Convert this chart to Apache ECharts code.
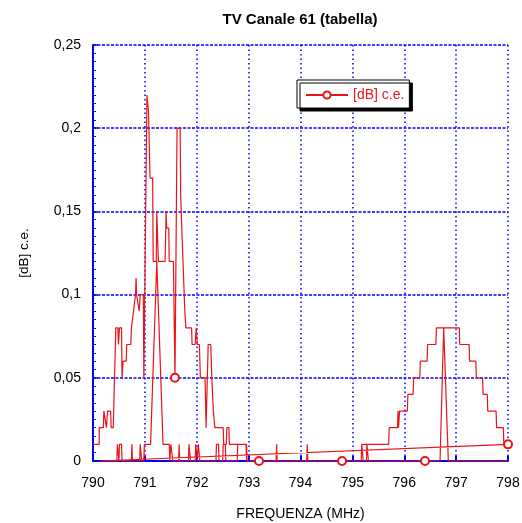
<!DOCTYPE html>
<html>
<head>
<meta charset="utf-8">
<script src="https://cdn.jsdelivr.net/npm/echarts@6/dist/echarts.min.js"></script>
<style>
  html, body { margin: 0; padding: 0; background: #fff; }
  #chart { width: 522px; height: 523px; }
</style>
</head>
<body>
<div id="chart"></div>
<script>
// traccia principale (inviluppo), in ordine di frequenza
const freqA = [790.00, 790.12, 790.12, 790.20, 790.21, 790.24, 790.26, 790.28, 790.34, 790.35, 790.39,
  790.44, 790.48, 790.49, 790.51, 790.55, 790.56, 790.58, 790.64, 790.65, 790.73, 790.74, 790.77,
  790.78, 790.81, 790.82, 790.83, 790.84, 790.87, 790.89, 790.91, 790.97, 790.98, 791.04, 791.06,
  791.07, 791.09, 791.10, 791.15, 791.16, 791.22, 791.23, 791.25, 791.26, 791.39, 791.41, 791.42,
  791.46, 791.47, 791.55, 791.58, 791.62, 791.68, 791.69, 791.70, 791.71, 791.77, 791.79, 791.90,
  791.91, 791.97, 791.99, 792.00, 792.01, 792.05, 792.07, 792.16, 792.18, 792.22, 792.27, 792.29,
  792.32, 792.35, 792.51, 792.52, 792.57, 792.58, 792.62, 792.63, 792.96, 792.97, 795.17, 795.18,
  795.70, 795.71, 795.87, 795.88, 795.89, 795.91, 796.06, 796.07, 796.17, 796.18, 796.30, 796.31,
  796.44, 796.45, 796.61, 796.62, 797.06, 797.07, 797.25, 797.26, 797.38, 797.39, 797.51, 797.52,
  797.60, 797.61, 797.77, 797.78, 797.91, 797.92, 798.00];
const valA = [0.01, 0.01, 0.02, 0.02, 0.03, 0.03, 0.02, 0.03, 0.03, 0.02, 0.02,
  0.08, 0.08, 0.07, 0.08, 0.08, 0.05, 0.06, 0.06, 0.07, 0.07, 0.08, 0.08,
  0.09, 0.09, 0.10, 0.11, 0.10, 0.10, 0.09, 0.10, 0.10, 0.05, 0.22, 0.22,
  0.21, 0.21, 0.17, 0.17, 0.12, 0.12, 0.15, 0.15, 0.12, 0.12, 0.15, 0.14,
  0.14, 0.12, 0.12, 0.05, 0.20, 0.20, 0.16, 0.15, 0.15, 0.09, 0.08, 0.08,
  0.07, 0.07, 0.08, 0.08, 0.07, 0.07, 0.05, 0.05, 0.02, 0.07, 0.07, 0.05,
  0.03, 0.02, 0.02, 0.01, 0.01, 0.02, 0.02, 0.01, 0.01, 0, 0, 0.01,
  0.01, 0.02, 0.02, 0.03, 0.02, 0.03, 0.03, 0.04, 0.04, 0.05, 0.05, 0.06,
  0.06, 0.07, 0.07, 0.08, 0.08, 0.07, 0.07, 0.06, 0.06, 0.05, 0.05, 0.04,
  0.04, 0.03, 0.03, 0.02, 0.02, 0.01, 0.01];

// seconda passata (valori bassi), disegnata di seguito alla prima
const freqB = [790.13, 790.46, 790.47, 790.49, 790.50, 790.51, 790.55, 790.56, 790.74, 790.75, 790.76,
  790.90, 790.91, 790.93, 790.94, 790.98, 790.99, 791.11, 791.23, 791.35, 791.47, 791.48, 791.50,
  791.53, 791.54, 791.65, 791.66, 791.67, 791.84, 791.85, 791.87, 791.88, 791.97, 791.98, 792.00,
  792.01, 792.03, 792.05, 792.06, 792.37, 792.38, 792.42, 792.43, 792.50, 792.51, 792.55, 792.56,
  792.78, 792.79, 792.95, 792.96, 793.20, 793.53, 793.54, 793.55, 794.12, 794.13, 794.14, 794.80,
  795.17, 795.18, 795.20, 795.21, 795.27, 795.28, 795.30, 795.31, 796.40, 796.69, 796.76, 796.78,
  796.85, 797.99];
const valB = [0, 0, 0.01, 0.01, 0, 0.01, 0.01, 0, 0, 0.01, 0,
  0, 0.01, 0.01, 0, 0, 0.01, 0.01, 0.12, 0.01, 0.01, 0, 0.01,
  0.01, 0, 0, 0.01, 0, 0, 0.01, 0.01, 0, 0, 0.01, 0.01,
  0, 0.01, 0.01, 0, 0, 0.01, 0.01, 0, 0, 0.01, 0.01, 0,
  0, 0.01, 0.01, 0, 0, 0, 0.01, 0, 0, 0.01, 0, 0,
  0, 0.01, 0.01, 0, 0, 0.01, 0.01, 0, 0, 0, 0.08, 0.08,
  0, 0];

// punti con il marcatore
const markFreq = [791.58, 793.20, 794.80, 796.40, 798.00];
const markVal = [0.05, 0, 0, 0, 0.01];

const xTicks = [790, 791, 792, 793, 794, 795, 796, 797, 798];

const RED = '#e8141b';
const BLUE = '#0000ff';

const data = [];
freqA.forEach((f, i) => data.push([f, valA[i]]));
freqB.forEach((f, i) => data.push([f, valB[i]]));

function isMarked(v) {
  for (let i = 0; i < markFreq.length; i++) {
    if (markFreq[i] === v[0] && markVal[i] === v[1]) return true;
  }
  return false;
}

const myChart = echarts.init(document.getElementById('chart'));
myChart.setOption({
  animation: false,
  backgroundColor: '#fff',
  title: {
    text: 'TV Canale 61 (tabella)',
    left: 300,
    top: 12,
    padding: 0,
    textAlign: 'center',
    textStyle: { fontFamily: 'Liberation Sans', fontSize: 15, fontWeight: 'bold', color: '#000' }
  },
  legend: {
    left: 297,
    top: 80,
    padding: [8, 5, 6, 8],
    itemWidth: 42,
    itemHeight: 9,
    itemGap: 5,
    backgroundColor: '#fff',
    borderColor: '#000',
    borderWidth: 1,
    borderRadius: 0,
    shadowColor: '#000',
    shadowBlur: 0,
    shadowOffsetX: 3,
    shadowOffsetY: 3,
    textStyle: { fontFamily: 'Liberation Sans', fontSize: 14, color: RED }
  },
  grid: { left: 93, right: 14, top: 45, bottom: 62, outerBoundsMode: 'none' },
  xAxis: {
    type: 'value',
    min: xTicks[0],
    max: xTicks[xTicks.length - 1],
    interval: 1,
    name: 'FREQUENZA (MHz)',
    nameLocation: 'middle',
    nameGap: 46,
    nameTextStyle: { fontFamily: 'Liberation Sans', fontSize: 14, color: '#000' },
    axisLine: { lineStyle: { color: BLUE, width: 2 } },
    axisTick: { inside: true, length: 5, lineStyle: { color: BLUE, width: 2 } },
    axisLabel: { margin: 15, fontFamily: 'Liberation Sans', fontSize: 14, color: '#000' },
    splitLine: { show: true, lineStyle: { color: BLUE, width: 1.5, type: [1.5, 3] } }
  },
  yAxis: {
    type: 'value',
    min: 0,
    max: 0.25,
    interval: 0.05,
    name: '[dB] c.e.',
    nameLocation: 'middle',
    nameGap: 62,
    nameTextStyle: { fontFamily: 'Liberation Sans', fontSize: 13.5, color: '#000' },
    axisLine: { lineStyle: { color: BLUE, width: 2 } },
    axisTick: { inside: true, length: 5, lineStyle: { color: BLUE, width: 1.5 } },
    minorTick: { show: true, splitNumber: 10, length: 3, lineStyle: { color: BLUE, width: 1 } },
    axisLabel: {
      margin: 12,
      fontFamily: 'Liberation Sans',
      fontSize: 14,
      color: '#000',
      formatter: v => String(+v.toFixed(2)).replace('.', ',')
    },
    splitLine: { show: true, lineStyle: { color: BLUE, width: 1.5, type: [3, 1.5] } }
  },
  series: [
    {
      name: '[dB] c.e.',
      type: 'line',
      data: data,
      symbol: 'emptyCircle',
      symbolSize: v => (isMarked(v) ? 8 : 0),
      showAllSymbol: true,
      clip: false,
      itemStyle: { color: RED, borderColor: RED, borderWidth: 1 },
      lineStyle: { color: RED, width: 1.2 },
      emphasis: { disabled: true }
    }
  ]
});
</script>
</body>
</html>
